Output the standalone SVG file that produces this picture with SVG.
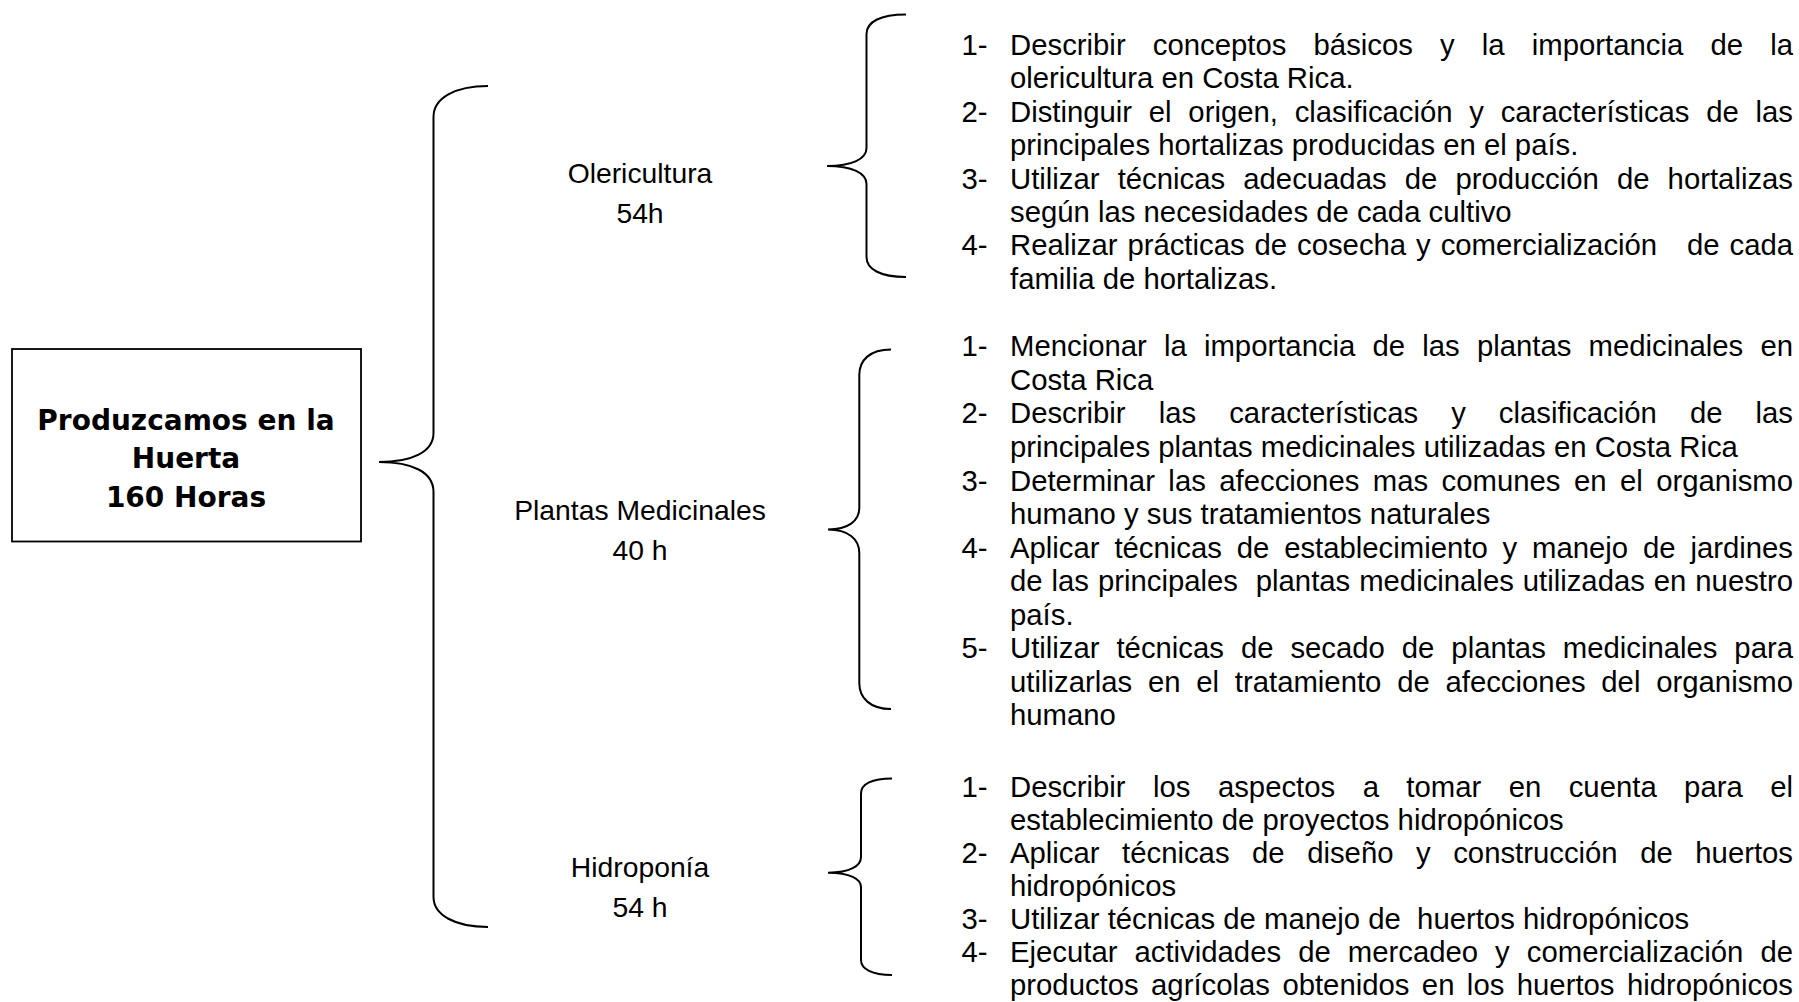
<svg xmlns="http://www.w3.org/2000/svg" width="1799" height="1002" viewBox="0 0 1799 1002">
<style>
.list{font-family:"Liberation Sans",Arial,sans-serif;font-size:29.3px;fill:#000}
.lbl{font-family:"Liberation Sans",Arial,sans-serif;font-size:28.3px;fill:#000;text-anchor:middle}
.title{font-family:"DejaVu Sans",Verdana,sans-serif;font-weight:bold;font-size:28px;fill:#000;text-anchor:middle}
.brace{fill:none;stroke:#000;stroke-width:2}
.box{fill:#fff;stroke:#000;stroke-width:1.8}
</style>
<rect width="1799" height="1002" fill="#fff"/>
<g id="connectors">
<path class="brace" d="M488,86 C455,86 433.5,98 433.5,117 L433.5,433 C433.5,452 412,462 379,462 C412,462 433.5,472 433.5,492 L433.5,897 C433.5,915 455,927 488,927"/>
<path class="brace" d="M906,14.5 C880,14.5 866.5,22 866.5,34 L866.5,148 C866.5,159 852,166 827,166 C852,166 866.5,173 866.5,184 L866.5,257 C866.5,269 880,277 906,277"/>
<path class="brace" d="M891,349.5 C870,349.5 859.3,360 859.3,375 L859.3,508 C859.3,521 848,529.5 828,529.5 C848,529.5 859.3,539 859.3,553 L859.3,683 C859.3,698 870,709 891,709"/>
<path class="brace" d="M892,778.5 C872,778.5 861,784 861,793.5 L861,857 C861,866 850,872.7 828,872.7 C850,872.7 861,879 861,887 L861,960 C861,969 872,975 892,975"/>
</g>
<g id="root">
<rect class="box" x="12" y="349" width="349" height="192.5"/>
<text class="title" x="186" y="430">Produzcamos en la</text>
<text class="title" x="186" y="468.3">Huerta</text>
<text class="title" x="186" y="506.7">160 Horas</text>
</g>
<g id="olericultura">
<text class="lbl" x="640" y="182.7">Olericultura</text>
<text class="lbl" x="640" y="223.3">54h</text>
</g>
<g id="plantas">
<text class="lbl" x="640" y="520">Plantas Medicinales</text>
<text class="lbl" x="640" y="560">40 h</text>
</g>
<g id="hidroponia">
<text class="lbl" x="640" y="876.7">Hidroponía</text>
<text class="lbl" x="640" y="917.3">54 h</text>
</g>
<g id="list-olericultura" transform="translate(0,2)">
<text class="list" x="961.5" y="53">1-</text>
<text class="list" x="1010" y="53" textLength="783" lengthAdjust="spacing" style="word-spacing:19px">Describir conceptos básicos y la importancia de la</text>
<text class="list" x="1010" y="86.4">olericultura en Costa Rica.</text>
<text class="list" x="961.5" y="119.8">2-</text>
<text class="list" x="1010" y="119.8" textLength="783" lengthAdjust="spacing" style="word-spacing:8.6px">Distinguir el origen, clasificación y características de las</text>
<text class="list" x="1010" y="153.2">principales hortalizas producidas en el país.</text>
<text class="list" x="961.5" y="186.6">3-</text>
<text class="list" x="1010" y="186.6" textLength="783" lengthAdjust="spacing" style="word-spacing:10px">Utilizar técnicas adecuadas de producción de hortalizas</text>
<text class="list" x="1010" y="220">según las necesidades de cada cultivo</text>
<text class="list" x="961.5" y="253.4">4-</text>
<text class="list" x="1010" y="253.4" textLength="783" lengthAdjust="spacing" style="word-spacing:1.8px" xml:space="preserve">Realizar prácticas de cosecha y comercialización   de cada</text>
<text class="list" x="1010" y="286.8">familia de hortalizas.</text>
</g>
<g id="list-plantas" transform="translate(0,3)">
<text class="list" x="961.5" y="353.3">1-</text>
<text class="list" x="1010" y="353.3" textLength="783" lengthAdjust="spacing" style="word-spacing:9px">Mencionar la importancia de las plantas medicinales en</text>
<text class="list" x="1010" y="386.9">Costa Rica</text>
<text class="list" x="961.5" y="420.4">2-</text>
<text class="list" x="1010" y="420.4" textLength="783" lengthAdjust="spacing" style="word-spacing:24.9px">Describir las características y clasificación de las</text>
<text class="list" x="1010" y="454">principales plantas medicinales utilizadas en Costa Rica</text>
<text class="list" x="961.5" y="487.5">3-</text>
<text class="list" x="1010" y="487.5" textLength="783" lengthAdjust="spacing" style="word-spacing:5.3px">Determinar las afecciones mas comunes en el organismo</text>
<text class="list" x="1010" y="521.1">humano y sus tratamientos naturales</text>
<text class="list" x="961.5" y="554.6">4-</text>
<text class="list" x="1010" y="554.6" textLength="783" lengthAdjust="spacing" style="word-spacing:6.7px">Aplicar técnicas de establecimiento y manejo de jardines</text>
<text class="list" x="1010" y="588.2" textLength="783" lengthAdjust="spacing" style="word-spacing:0.8px" xml:space="preserve">de las principales  plantas medicinales utilizadas en nuestro</text>
<text class="list" x="1010" y="621.7">país.</text>
<text class="list" x="961.5" y="655.3">5-</text>
<text class="list" x="1010" y="655.3" textLength="783" lengthAdjust="spacing" style="word-spacing:8.8px">Utilizar técnicas de secado de plantas medicinales para</text>
<text class="list" x="1010" y="688.8" textLength="783" lengthAdjust="spacing" style="word-spacing:7.6px">utilizarlas en el tratamiento de afecciones del organismo</text>
<text class="list" x="1010" y="722.4">humano</text>
</g>
<g id="list-hidroponia" transform="translate(0,2.5)">
<text class="list" x="961.5" y="794">1-</text>
<text class="list" x="1010" y="794" textLength="783" lengthAdjust="spacing" style="word-spacing:19.3px">Describir los aspectos a tomar en cuenta para el</text>
<text class="list" x="1010" y="827">establecimiento de proyectos hidropónicos</text>
<text class="list" x="961.5" y="860">2-</text>
<text class="list" x="1010" y="860" textLength="783" lengthAdjust="spacing" style="word-spacing:14.4px">Aplicar técnicas de diseño y construcción de huertos</text>
<text class="list" x="1010" y="893">hidropónicos</text>
<text class="list" x="961.5" y="926">3-</text>
<text class="list" x="1010" y="926" xml:space="preserve">Utilizar técnicas de manejo de  huertos hidropónicos</text>
<text class="list" x="961.5" y="959">4-</text>
<text class="list" x="1010" y="959" textLength="783" lengthAdjust="spacing" style="word-spacing:8.9px">Ejecutar actividades de mercadeo y comercialización de</text>
<text class="list" x="1010" y="992" textLength="783" lengthAdjust="spacing" style="word-spacing:4.3px">productos agrícolas obtenidos en los huertos hidropónicos</text>
</g>
</svg>
